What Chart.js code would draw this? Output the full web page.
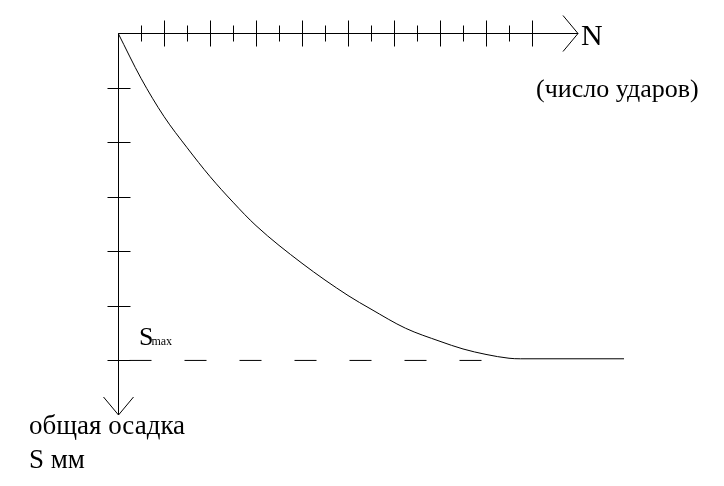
<!DOCTYPE html>
<html>
<head>
<meta charset="utf-8">
<script src="https://cdn.jsdelivr.net/npm/chart.js@4"></script>
<style>
  html, body { margin: 0; padding: 0; background: #fff; }
  canvas { display: block; }
</style>
</head>
<body>
<canvas id="chart" width="724" height="486"></canvas>
<script>
// N (число ударов) vs S (общая осадка)
const nValues = [0, 1, 2, 3, 4, 5, 6, 8, 10, 11, 12.5, 14, 15, 16, 17, 17.5, 22];
const sValues = [0, 0.83, 1.53, 2.1, 2.63, 3.1, 3.53, 4.22, 4.81, 5.06, 5.41, 5.65, 5.79, 5.89, 5.96, 5.97, 5.97];

// Smax dashed level
const sMax = 6;
const dashN = [0.5, 15.9];

// tick marks on the axes
const nTicks = [1, 2, 3, 4, 5, 6, 7, 8, 9, 10, 11, 12, 13, 14, 15, 16, 17, 18];
const sTicks = [1, 2, 3, 4, 5, 6];
const nArrow = 20;
const sArrow = 7;

const serif = '"Liberation Serif", "DejaVu Serif", serif';

// Axes with arrows, ticks and labels
const axesPlugin = {
  id: 'axes',
  afterDraw(chart) {
    const c = chart.ctx;
    const x = chart.scales.x;
    const y = chart.scales.y;
    const x0 = Math.round(x.getPixelForValue(0)) + 0.5;
    const y0 = Math.round(y.getPixelForValue(0)) + 0.5;
    const xEnd = x.getPixelForValue(nArrow);
    const yEnd = y.getPixelForValue(sArrow);

    c.save();
    c.strokeStyle = '#000';
    c.lineWidth = 1;
    c.beginPath();
    // horizontal axis + arrow
    c.moveTo(x0, y0);
    c.lineTo(xEnd, y0);
    c.moveTo(xEnd - 15, y0 - 18);
    c.lineTo(xEnd, y0);
    c.lineTo(xEnd - 15, y0 + 18);
    // vertical axis + arrow
    c.moveTo(x0, y0);
    c.lineTo(x0, yEnd);
    c.moveTo(x0 - 15, yEnd - 18);
    c.lineTo(x0, yEnd);
    c.lineTo(x0 + 15, yEnd - 18);
    // ticks on N axis, long and short by turns
    nTicks.forEach(function (t) {
      const px = Math.round(x.getPixelForValue(t)) + 0.5;
      if (t % 2 === 0) {
        c.moveTo(px, y0 - 13);
        c.lineTo(px, y0 + 13);
      } else {
        c.moveTo(px, y0 - 8);
        c.lineTo(px, y0 + 8);
      }
    });
    // ticks on S axis
    sTicks.forEach(function (t) {
      const py = Math.round(y.getPixelForValue(t)) + 0.5;
      c.moveTo(x0 - 11, py);
      c.lineTo(x0 + 12, py);
    });
    c.stroke();

    // labels
    c.fillStyle = '#000';
    c.textBaseline = 'alphabetic';
    c.textAlign = 'left';
    c.font = '30px ' + serif;
    c.fillText('N', xEnd + 3, y0 + 11);
    c.font = '26px ' + serif;
    c.fillText('(число ударов)', 536, 97);
    c.font = '27px ' + serif;
    c.fillText('общая осадка', 29, 434);
    c.fillText('S мм', 29, 468);

    const sy = y.getPixelForValue(sMax);
    c.font = '26px ' + serif;
    c.fillText('S', 139, sy - 15);
    const sw = c.measureText('S').width;
    c.font = '12px ' + serif;
    c.fillText('max', 139 + sw - 2, sy - 15);
    c.restore();
  }
};

new Chart(document.getElementById('chart').getContext('2d'), {
  type: 'scatter',
  data: {
    datasets: [
      {
        data: nValues.map((n, i) => ({ x: n, y: sValues[i] })),
        showLine: true,
        borderColor: '#000',
        borderWidth: 1,
        pointRadius: 0,
        cubicInterpolationMode: 'monotone'
      },
      {
        data: dashN.map(n => ({ x: n, y: sMax })),
        showLine: true,
        borderColor: '#000',
        borderWidth: 1,
        borderDash: [22, 33],
        pointRadius: 0
      }
    ]
  },
  options: {
    responsive: false,
    animation: false,
    layout: { padding: { left: 118, top: 33, right: 100, bottom: 71 } },
    plugins: { legend: { display: false }, tooltip: { enabled: false } },
    scales: {
      x: { type: 'linear', min: 0, max: 22, display: false },
      y: { type: 'linear', min: 0, max: 7, reverse: true, display: false }
    }
  },
  plugins: [axesPlugin]
});
</script>
</body>
</html>
